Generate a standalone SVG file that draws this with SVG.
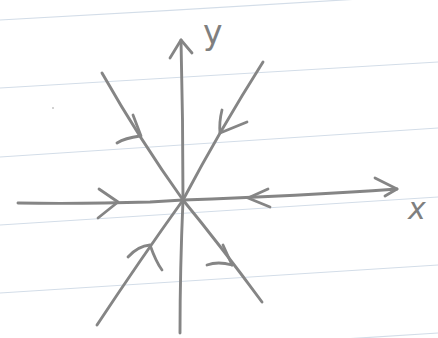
<svg xmlns="http://www.w3.org/2000/svg" width="438" height="338" viewBox="0 0 438 338">
  <style>
    .paper { stroke: #d3dde8; stroke-width: 1.2; fill: none; }
    .pen { stroke: #858585; stroke-width: 2.9; fill: none; stroke-linecap: round; stroke-linejoin: round; }
    .head { stroke: #858585; stroke-width: 2.8; fill: none; stroke-linecap: round; stroke-linejoin: round; }
    .lbl { font-family: "DejaVu Sans", "Liberation Sans", sans-serif; fill: #7f7f7f; }
  </style>
  <rect x="0" y="0" width="438" height="338" fill="#ffffff"/>
  <g id="ruled-paper">
    <path class="paper" d="M0,20 Q220,8 438,-6"/>
    <path class="paper" d="M0,88 Q220,74 438,62"/>
    <path class="paper" d="M0,157 Q220,142 438,128"/>
    <path class="paper" d="M0,225 Q220,210 438,197"/>
    <path class="paper" d="M0,293 Q220,278 438,265"/>
    <path class="paper" d="M0,361 Q220,346 438,333"/>
    <circle cx="53" cy="108" r="0.8" fill="#9a9a9a"/>
  </g>
  <g id="connectors">
    <g id="x-axis">
      <path class="pen" d="M18,203 Q80,204 150,202 L183,200 Q300,196 397,189"/>
      <polyline class="head" points="375,178 397,189 385,196"/>
      <polyline class="head" points="99,189 118,202 98,218"/>
      <polyline class="head" points="268,189 248,198 270,207"/>
    </g>
    <g id="y-axis">
      <path class="pen" d="M181,40 Q183,120 183,200 Q180,270 180,333"/>
      <polyline class="head" points="170,58 181,40 192,53"/>
    </g>
    <g id="diagonal-a">
      <path class="pen" d="M102,73 Q140,140 183,200 Q220,245 262,302"/>
      <polyline class="head" points="133,115 141,136"/>
      <path class="head" d="M117,143 Q125,138 140,136"/>
      <polyline class="head" points="223,245 232,265"/>
      <path class="head" d="M207,265 Q218,261 232,265"/>
    </g>
    <g id="diagonal-b">
      <path class="pen" d="M263,62 Q220,130 183,200 Q140,260 97,325"/>
      <path class="head" d="M222,110 Q219,122 220,133 L247,122"/>
      <path class="head" d="M128,257 Q138,246 150,245 Q156,262 162,270"/>
    </g>
  </g>
  <g id="labels">
    <text class="lbl" x="203" y="44" font-size="33">y</text>
    <text class="lbl" x="408" y="219" font-size="30" font-style="italic">x</text>
  </g>
</svg>
